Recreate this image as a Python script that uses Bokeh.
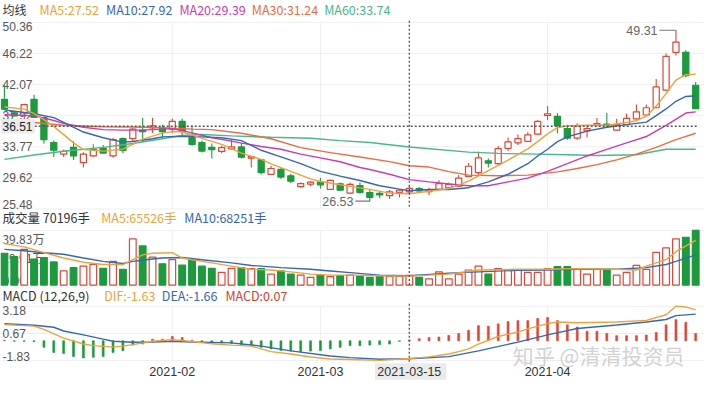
from bokeh.plotting import figure
from bokeh.models import Range1d, ColumnDataSource
from bokeh.core.properties import value
from bokeh.embed import file_html
from bokeh.resources import INLINE

# ---------------- data ----------------
day_index = list(range(71))
open_p = [40.1, 38.3, 38.3, 40.1, 37.66, 34.34, 32.8, 33.7, 31.65, 32.55,
          33.57, 32.55, 34.85, 34.85, 36.0, 36.3, 36.3, 36.13, 37.15, 35.0,
          34.34, 33.7, 33.15, 33.5, 33.75, 32.25, 32.03, 30.1, 30.75, 29.9,
          28.45, 28.8, 29.05, 28.1, 28.83, 27.6, 28.6, 27.68, 27.55, 27.26,
          27.7, 27.77, 28.2, 27.8, 28.1, 28.3, 28.54, 29.82, 30.33, 31.9,
          31.52, 33.57, 34.3, 34.5, 35.45, 37.95, 37.83, 36.2, 34.94, 35.9,
          36.64, 36.8, 36.0, 36.73, 37.5, 38.01, 38.98, 41.34, 46.37, 46.37, 41.98]
high_p = [42.0, 38.5, 39.5, 40.7, 37.8, 34.6, 33.4, 34.5, 33.06, 34.1,
          34.0, 34.97, 35.0, 36.3, 37.66, 37.66, 36.7, 37.5, 37.5, 36.6,
          34.6, 34.2, 33.9, 34.7, 34.3, 32.5, 32.1, 31.2, 30.9, 30.2,
          29.0, 29.2, 29.6, 29.4, 29.0, 29.0, 29.0, 28.1, 27.9, 28.0,
          28.1, 28.6, 28.4, 28.3, 29.3, 29.0, 30.0, 31.6, 33.15, 32.2,
          33.87, 35.0, 35.4, 35.7, 37.3, 39.2, 38.27, 36.7, 36.9, 36.6,
          37.6, 38.27, 37.5, 38.2, 39.4, 39.4, 42.82, 46.2, 49.31, 46.66, 42.4]
low_p = [38.7, 37.8, 38.0, 37.6, 34.21, 32.42, 32.4, 32.0, 31.0, 32.4,
         32.9, 32.3, 32.9, 34.5, 34.46, 35.6, 34.8, 35.6, 35.2, 33.9,
         33.0, 32.2, 32.9, 33.4, 32.2, 31.0, 30.1, 30.0, 29.5, 28.9,
         28.3, 28.5, 28.2, 28.0, 27.9, 27.5, 27.5, 26.53, 26.9, 26.8,
         27.0, 27.55, 27.7, 27.3, 28.0, 28.0, 28.4, 29.7, 30.0, 31.0,
         31.3, 33.2, 34.0, 34.4, 35.3, 37.3, 35.58, 34.72, 34.7, 35.0,
         36.5, 36.4, 35.9, 36.7, 37.4, 37.9, 38.9, 41.2, 45.95, 43.04, 38.8]
close_p = [38.8, 37.9, 39.4, 37.7, 34.72, 33.31, 33.18, 32.55, 32.8, 33.44,
           32.93, 34.72, 33.3, 36.13, 35.8, 36.55, 35.8, 37.15, 35.87, 34.08,
           33.2, 33.4, 33.66, 33.75, 32.38, 32.45, 30.33, 30.88, 29.73, 29.18,
           28.87, 29.05, 28.7, 29.3, 27.98, 28.75, 27.68, 27.04, 27.35, 27.77,
           27.98, 28.24, 27.9, 28.0, 28.87, 28.75, 29.6, 31.18, 32.29, 31.6,
           33.53, 34.42, 34.85, 35.36, 37.15, 38.18, 36.64, 34.94, 36.55, 36.2,
           36.85, 36.64, 36.73, 37.57, 38.43, 38.98, 41.76, 45.82, 47.74, 43.26, 38.85]
# volume in 万
vol_wan = [23.2, 20.8, 26.0, 19.0, 20.1, 16.9, 10.3, 12.7, 13.8, 15.0,
           12.2, 17.3, 11.5, 33.7, 28.5, 20.4, 15.5, 18.5, 14.5, 18.5,
           13.8, 12.2, 9.2, 12.2, 12.7, 12.0, 12.0, 8.0, 10.3, 8.0,
           7.3, 5.7, 7.3, 6.2, 6.9, 7.3, 6.4, 5.7, 6.4, 6.4,
           6.4, 7.02, 5.7, 4.5, 9.7, 4.5, 8.0, 11.0, 13.8, 8.0,
           12.0, 11.0, 11.0, 9.2, 9.2, 12.0, 13.4, 13.4, 11.5, 8.0,
           11.5, 11.5, 7.3, 9.2, 14.3, 11.5, 23.9, 27.1, 33.7, 34.8, 39.83]
macd_hist = [0.05, -0.05, -0.05, -0.08, -0.6, -1.08, -1.17, -1.46, -1.58, -1.52,
             -1.46, -1.08, -0.93, -0.4, -0.3, 0.15, 0.15, 0.4, 0.3, 0.05,
             -0.1, -0.15, -0.2, -0.25, -0.35, -0.45, -0.6, -0.75, -0.9, -0.95,
             -1.0, -0.95, -0.9, -0.75, -0.6, -0.45, -0.45, -0.4, -0.35, -0.3,
             -0.05, 0.07, 0.2, 0.3, 0.35, 0.5, 0.68, 0.97, 1.4, 1.35,
             1.56, 1.77, 1.86, 1.86, 2.06, 2.15, 1.86, 1.47, 1.27, 0.88,
             0.88, 0.68, 0.47, 0.47, 0.47, 0.53, 0.77, 1.47, 1.95, 1.7, 0.68]

ma5_x = [0, 2, 3, 4, 5, 6, 7, 8, 10, 12, 13, 14, 16, 17, 18, 19, 20, 22, 24, 26, 27, 29, 31, 32, 34,
         36, 37, 39, 41, 43, 45, 47, 49, 51, 53, 54, 55, 56, 57, 59, 61, 63, 64, 65, 66, 67, 68, 69, 70]
ma5_v = [39.07, 38.8, 38.2, 37.4, 36.5, 35.4, 34.3, 33.4, 33.2, 33.45, 34.1, 34.8, 35.6, 35.8, 35.75,
         35.35, 34.9, 34.1, 32.93, 32.1, 31.5, 30.5, 29.5, 29.15, 28.71, 28.3, 28.1, 27.6, 27.52, 27.85,
         28.19, 29.2, 30.6, 32.0, 33.5, 34.46, 35.49, 36.32, 36.58, 36.64, 36.64, 37.02, 37.25, 37.85,
         39.2, 40.86, 42.66, 43.38, 43.46]
ma10_x = [0, 3, 5, 6, 8, 10, 12, 13, 15, 16, 18, 20, 22, 24, 26, 28, 30, 32, 34, 36, 38, 40, 41,
          43, 45, 47, 49, 51, 53, 54, 55, 56, 57, 59, 61, 63, 65, 66, 67, 68, 69, 70]
ma10_v = [38.69, 38.18, 37.66, 37.02, 35.74, 34.98, 34.40, 34.47, 34.85, 35.10, 35.17, 35.10, 34.98,
          34.59, 33.31, 32.42, 31.52, 30.50, 29.86, 29.28, 28.58, 28.13, 27.92, 28.07, 28.07, 28.32,
          29.09, 30.11, 31.52, 32.55, 33.44, 34.46, 35.10, 35.87, 36.38, 36.73, 37.06, 37.92, 38.82,
          39.84, 40.48, 40.57]
ma20_x = [0, 3, 5, 6, 8, 10, 12, 14, 16, 17, 19, 21, 23, 24, 26, 28, 30, 32, 34, 36, 37, 39, 41,
          43, 45, 47, 49, 51, 53, 55, 57, 59, 61, 63, 65, 67, 69, 70]
ma20_v = [38.05, 37.92, 37.28, 36.90, 36.38, 36.06, 36.0, 36.0, 36.13, 36.19, 35.62, 34.98, 34.53,
          34.27, 33.82, 33.44, 32.80, 32.29, 31.78, 31.01, 30.75, 30.11, 29.39, 29.09, 28.83, 28.58,
          28.58, 29.09, 29.60, 30.50, 31.52, 32.55, 33.44, 34.30, 35.14, 36.64, 38.27, 38.43]
ma30_x = [0, 3, 6, 10, 13, 16, 19, 21, 24, 27, 30, 33, 36, 39, 41, 43, 45, 47, 50, 53, 56, 58, 60,
          62, 64, 66, 68, 70]
ma30_v = [37.15, 37.02, 36.64, 36.45, 36.42, 36.32, 36.13, 36.06, 35.58, 34.85, 33.66, 32.99, 32.42,
          31.8, 31.24, 31.07, 30.46, 29.99, 29.92, 29.99, 30.43, 30.88, 31.39, 32.03, 32.80, 33.70,
          34.72, 35.58]
ma60_x = [0, 3, 6, 10, 13, 16, 18, 20, 23, 27, 31, 34, 37, 41, 47, 50, 54, 57, 60, 64, 67, 70]
ma60_v = [32.10, 32.67, 33.18, 33.70, 34.21, 34.85, 35.30, 35.42, 35.23, 35.04, 34.91, 34.59, 34.34,
          33.74, 33.06, 32.89, 32.80, 32.71, 32.61, 32.71, 33.44, 33.44]

vma5_x = [0, 2, 4, 6, 8, 10, 12, 13, 14, 15, 17, 18, 19, 21, 23, 25, 27, 29, 31, 33, 35, 38, 41,
          45, 48, 52, 55, 58, 62, 64, 65, 67, 68, 70]
vma5_v = [30.2, 27.8, 23.6, 19.7, 16.6, 15.0, 15.0, 18.5, 22.0, 23.2, 23.6, 19.7, 18.5, 16.2, 13.8,
          11.5, 11.0, 9.6, 8.0, 7.3, 7.3, 6.8, 6.55, 8.0, 11.0, 11.5, 11.5, 12.0, 11.5, 11.0, 13.8,
          18.5, 24.3, 32.5]
vma10_x = [0, 2, 4, 6, 8, 10, 12, 13, 15, 16, 18, 20, 23, 25, 28, 31, 33, 35, 38, 41, 45, 48, 52,
           55, 58, 62, 65, 67, 68, 70]
vma10_v = [26.0, 25.0, 23.6, 22.5, 19.7, 17.3, 15.7, 17.3, 19.0, 19.7, 20.1, 18.5, 16.2, 14.3, 12.7,
           11.5, 10.3, 9.1, 7.3, 6.83, 8.7, 9.6, 10.8, 11.0, 11.5, 11.5, 12.7, 15.0, 17.3, 22.0]

dif_x = [0, 3, 4, 6, 8, 9, 11, 12, 13, 15, 17, 19, 21, 23, 25, 27, 29, 31, 33, 35, 38, 41, 43, 45,
         46, 47, 48, 49, 50, 52, 53, 55, 56, 58, 62, 65, 67, 68, 69, 70]
dif_v = [1.49, 1.35, 1.05, 0.25, -0.30, -0.45, -0.58, -0.49, -0.35, -0.04, 0.11, -0.06, -0.28,
         -0.40, -0.49, -1.0, -1.22, -1.50, -1.68, -1.73, -1.81, -1.63, -1.48, -1.22, -1.0, -0.75,
         -0.30, 0.05, 0.40, 0.80, 1.10, 1.58, 1.73, 1.66, 1.73, 1.88, 2.40, 3.18, 3.12, 2.85]
dea_x = [0, 3, 5, 6, 8, 10, 11, 13, 15, 17, 19, 23, 26, 29, 33, 35, 38, 41, 45, 48, 52, 55, 58, 62,
         65, 67, 68, 70]
dea_v = [1.58, 1.43, 1.25, 0.90, 0.55, 0.15, -0.04, -0.13, -0.11, -0.04, -0.11, -0.19, -0.49, -0.93,
         -1.40, -1.55, -1.70, -1.66, -1.46, -0.93, -0.12, 0.55, 1.13, 1.46, 1.73, 1.96, 2.32, 2.46]

price_ticks = [50.36, 46.22, 42.07, 37.92, 33.77, 29.62, 25.48]
vol_ticks = [39.83, 19.915, 0.0]
vol_tick_labels = ["39.83万", "19.91万", "0.00"]
macd_ticks = [3.18, 0.67, -1.83]
date_tick_idx = [17, 32, 41, 55]
date_tick_labels = ["2021-02", "2021-03", "2021-03-15", "2021-04"]
month_grid_idx = [17, 32, 55]
cross_idx = 41
cross_price = 36.51

title_ma = ["MA5:27.52", "MA10:27.92", "MA20:29.39", "MA30:31.24", "MA60:33.74"]
title_vol = ["成交量 70196手", "MA5:65526手", "MA10:68251手"]
title_macd = ["MACD (12,26,9)", "DIF:-1.63", "DEA:-1.66", "MACD:0.07"]

# ---------------- styling ----------------
RED = "#de4636"
GREEN = "#1b9a3e"
C_MA5 = "#eda23a"
C_MA10 = "#3567b2"
C_MA20 = "#cd3bae"
C_MA30 = "#eb6b42"
C_MA60 = "#47b88c"
C_TXT = "#333333"
C_AX = "#555555"
C_GRID = "#efefef"
LAT = "Liberation Sans"
CJK = "Noto Sans CJK SC"

p = figure(width=704, height=383,
           x_range=Range1d(-0.396, 70.891), y_range=Range1d(2.215, 53.277),
           output_backend="svg", toolbar_location=None, min_border=0,
           x_axis_location=None, y_axis_location=None)
p.grid.visible = False
p.xgrid.visible = False
p.ygrid.visible = False
p.outline_line_color = None
p.background_fill_color = "white"
p.border_fill_color = "white"
p.extra_x_ranges = {"px": Range1d(0, 720)}
p.extra_y_ranges = {"vol": Range1d(-71.63, 207.2),
                    "macd": Range1d(-3.938, 31.372),
                    "py": Range1d(399, 0)}


def txt(xs, ys, texts, color, size="12px", font=LAT, align="left",
        baseline="middle", xr="px", yr="py", alpha=1.0):
    p.text(x=xs, y=ys, text=texts, text_color=color, text_font_size=size,
           text_font=value(font), text_align=align, text_baseline=baseline,
           text_alpha=alpha, x_range_name=xr, y_range_name=yr)


# ---------------- grid ----------------
n = len(price_ticks)
p.segment(x0=[0] * n, x1=[720] * n, y0=price_ticks, y1=price_ticks,
          line_color=C_GRID, line_width=1, x_range_name="px")
p.segment(x0=[0] * 3, x1=[720] * 3, y0=vol_ticks, y1=vol_ticks,
          line_color=C_GRID, line_width=1, x_range_name="px", y_range_name="vol")
p.segment(x0=[0] * 3, x1=[720] * 3, y0=macd_ticks, y1=macd_ticks,
          line_color=C_GRID, line_width=1, x_range_name="px", y_range_name="macd")
k = len(month_grid_idx)
p.segment(x0=month_grid_idx, x1=month_grid_idx, y0=[price_ticks[-1]] * k, y1=[price_ticks[0]] * k,
          line_color=C_GRID, line_width=1)
p.segment(x0=month_grid_idx, x1=month_grid_idx, y0=[0] * k, y1=[vol_ticks[0]] * k,
          line_color=C_GRID, line_width=1, y_range_name="vol")
p.segment(x0=month_grid_idx, x1=month_grid_idx, y0=[macd_ticks[-1]] * k, y1=[macd_ticks[0]] * k,
          line_color=C_GRID, line_width=1, y_range_name="macd")

# ---------------- axis labels (drawn under the marks) ----------------
txt([2], [price_ticks[0]], ["%.2f" % price_ticks[0]], C_AX, baseline="top", yr="default")
txt([2] * 5, price_ticks[1:6], ["%.2f" % v for v in price_ticks[1:6]], C_AX, yr="default")
txt([2], [price_ticks[-1]], ["%.2f" % price_ticks[-1]], C_AX, baseline="bottom", yr="default")
txt([2], [vol_ticks[0]], [vol_tick_labels[0]], C_AX, font=CJK, baseline="top", yr="vol")
txt([2], [vol_ticks[1]], [vol_tick_labels[1]], C_AX, font=CJK, yr="vol")
txt([2], [vol_ticks[2]], [vol_tick_labels[2]], C_AX, baseline="bottom", yr="vol")
txt([2], [macd_ticks[0]], ["%.2f" % macd_ticks[0]], C_AX, baseline="top", yr="macd")
txt([2], [macd_ticks[1]], ["%.2f" % macd_ticks[1]], C_AX, yr="macd")
txt([2], [macd_ticks[2]], ["%.2f" % macd_ticks[2]], C_AX, baseline="bottom", yr="macd")

# ---------------- candles ----------------
rise = [c >= o for o, c in zip(open_p, close_p)]
src = ColumnDataSource(dict(
    x=day_index, hi=high_p, lo=low_p,
    top=[max(o, c) for o, c in zip(open_p, close_p)],
    bot=[min(o, c) for o, c in zip(open_p, close_p)],
    col=[RED if r else GREEN for r in rise],
    fill=["white" if r else GREEN for r in rise],
    vol=vol_wan,
))
p.segment(x0="x", x1="x", y0="lo", y1="hi", line_color="col", line_width=1.1, source=src)
p.vbar(x="x", width=0.62, top="top", bottom="bot", fill_color="fill",
       line_color="col", line_width=1.2, source=src)

for xs, vs, c in [(ma60_x, ma60_v, C_MA60), (ma30_x, ma30_v, C_MA30), (ma20_x, ma20_v, C_MA20),
                  (ma10_x, ma10_v, C_MA10), (ma5_x, ma5_v, C_MA5)]:
    p.line(xs, vs, line_color=c, line_width=1.4)

# ---------------- volume ----------------
p.vbar(x="x", width=0.68, top="vol", bottom=0, fill_color="fill", line_color="col",
       line_width=1.2, source=src, y_range_name="vol")
p.line(vma10_x, vma10_v, line_color=C_MA10, line_width=1.4, y_range_name="vol")
p.line(vma5_x, vma5_v, line_color=C_MA5, line_width=1.4, y_range_name="vol")

# ---------------- MACD ----------------
mcol = [RED if m >= 0 else GREEN for m in macd_hist]
p.vbar(x=day_index, width=0.2, top=[max(m, 0) for m in macd_hist],
       bottom=[min(m, 0) for m in macd_hist], fill_color=mcol, line_color=mcol,
       line_width=0.6, y_range_name="macd")
p.line(dea_x, dea_v, line_color=C_MA10, line_width=1.4, y_range_name="macd")
p.line(dif_x, dif_v, line_color=C_MA5, line_width=1.4, y_range_name="macd")

# ---------------- crosshair ----------------
p.segment(x0=[35], x1=[712], y0=[cross_price], y1=[cross_price], line_color="#555555",
          line_width=1.3, line_dash="2 2", x_range_name="px")
p.segment(x0=[cross_idx] * 3, x1=[cross_idx] * 3, y0=[21, 236, 316], y1=[217, 297, 377],
          line_color="#555555", line_width=1.3, line_dash="2 2", y_range_name="py")
p.quad(left=[0], right=[35], top=[123.5], bottom=[138.5], fill_color="#ebebeb",
       line_color=None, x_range_name="px", y_range_name="py")
txt([2], [cross_price], ["%.2f" % cross_price], "#222222", yr="default")
p.quad(left=[383], right=[456], top=[378], bottom=[395], fill_color="#ebebeb",
       line_color=None, x_range_name="px", y_range_name="py")

# ---------------- extreme markers ----------------
hi_i = high_p.index(max(high_p))
lo_i = low_p.index(min(low_p))
p.segment(x0=[674], x1=[691], y0=[31], y1=[31], line_color="#777777", line_width=1.2,
          x_range_name="px", y_range_name="py")
txt([672], [31], ["%.2f" % high_p[hi_i]], "#666666", align="right", size="12.5px")
p.segment(x0=[363], x1=[378], y0=[209], y1=[209], line_color="#777777", line_width=1.2,
          x_range_name="px", y_range_name="py")
txt([361], [209], ["%.2f" % low_p[lo_i]], "#666666", align="right", size="12.5px")

# ---------------- date labels ----------------
txt(date_tick_idx, [386.5] * 4, date_tick_labels, C_TXT, align="center", xr="default", size="12.5px")

# ---------------- titles ----------------
txt([2], [9.5], ["均线"], C_TXT, font=CJK, size="12px")
txt([40, 108, 183, 257, 331], [9.5] * 5, title_ma, [C_MA5, C_MA10, C_MA20, C_MA30, C_MA60],
    font=CJK, size="12.5px")
txt([2, 103, 188], [226.5] * 3, title_vol, [C_TXT, C_MA5, C_MA10], font=CJK, size="12.5px")
txt([2, 106, 165, 230], [307.5] * 4, title_macd, [C_TXT, C_MA5, C_MA10, "#d0402f"],
    font=CJK, size="12.5px")

# ---------------- watermark ----------------
txt([524], [369], ["知乎 @清清投资员"], "#c4c4c4", font=CJK, size="21px", alpha=0.75)

open("out.html", "w").write(file_html(p, INLINE))
